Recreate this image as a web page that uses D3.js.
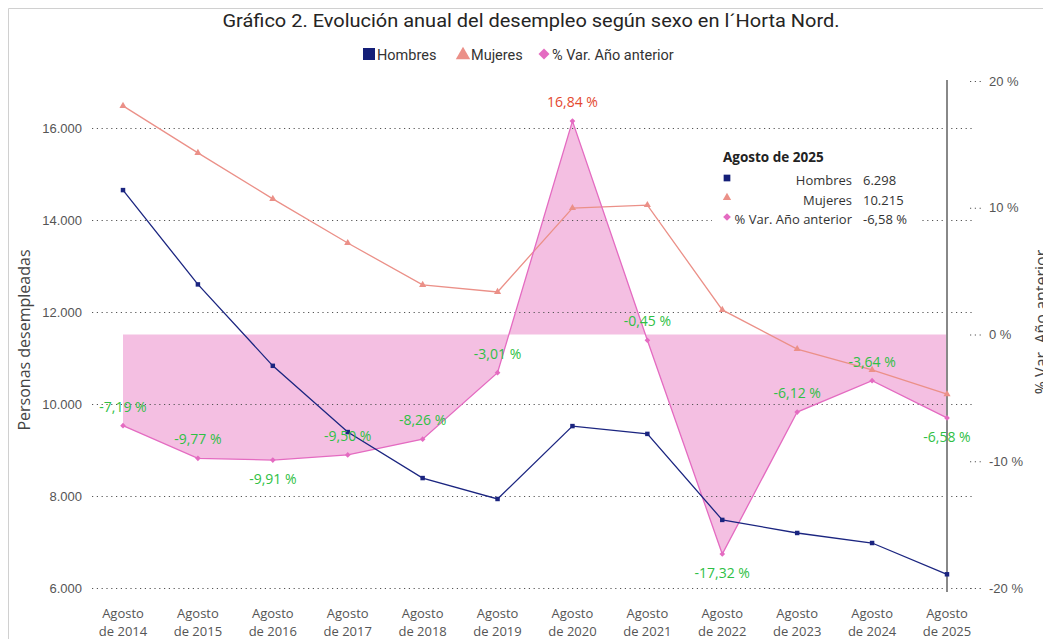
<!DOCTYPE html>
<html>
<head>
<meta charset="utf-8">
<script src="https://cdn.jsdelivr.net/npm/d3@7"></script>
<style>
  body { margin: 0; background: #fff; }
  svg { font-family: "Open Sans", "Noto Sans", sans-serif; }
  .grid line { stroke: #555; stroke-dasharray: 1.2,3.6; stroke-width: 1.2; }
  .grid path { display: none; }
  .axis path { display: none; }
  .axis text { fill: #555; font-size: 13px; }
</style>
</head>
<body>
<svg id="canvas" width="1043" height="639"></svg>
<script>
var width = 1043;
var height = 639;

var years = ["2014", "2015", "2016", "2017", "2018", "2019", "2020", "2021", "2022", "2023", "2024", "2025"];
var hombres = [14650, 12600, 10830, 9390, 8390, 7935, 9520, 9350, 7480, 7196, 6978, 6298];
var mujeres = [16480, 15460, 14460, 13500, 12590, 12435, 14260, 14325, 12045, 11195, 10740, 10215];
var variacion = [-7.19, -9.77, -9.91, -9.50, -8.26, -3.01, 16.84, -0.45, -17.32, -6.12, -3.64, -6.58];
// label above (1) or below (-1) the point
var labelSide = [1, 1, -1, 1, 1, 1, 1, 1, -1, 1, 1, -1];
var leftTicks = [6000, 8000, 10000, 12000, 14000, 16000];
var rightTicks = [-20, -10, 0, 10, 20];

var es = d3.formatLocale({decimal: ",", thousands: ".", grouping: [3], currency: ["", " €"], minus: "-"});
var fmtInt = es.format(",.0f");
var fmtPct = function(v) { return es.format(".2f")(v) + " %"; };

var svg = d3.select("#canvas");

var xScale = d3.scalePoint()
.domain(years)
.range([123, 947]);

var yScale = d3.scaleLinear()
.domain([6000, 16000])
.range([588, 128]);

var pScale = d3.scaleLinear()
.domain([-20, 20])
.range([588, 81]);

// a diamond = square turned 45 degrees
function marker(symbol) {
  return symbol === "diamond" ? d3.symbolSquare : symbol;
}
function rot(symbol) {
  return symbol === "diamond" ? " rotate(45)" : "";
}

// frame
svg.append("path")
.attr("d", "M8.5," + height + "V8.5H" + width)
.attr("fill", "none")
.attr("stroke", "#d0d0d0")
.attr("stroke-width", 1);

// title
svg.append("text")
.attr("x", 531)
.attr("y", 27)
.attr("text-anchor", "middle")
.attr("font-family", "Roboto, sans-serif")
.attr("font-size", 17.5)
.attr("fill", "#252423")
.attr("textLength", 617)
.attr("lengthAdjust", "spacingAndGlyphs")
.text("Gráfico 2. Evolución anual del desempleo según sexo en l´Horta Nord.");

// legend
var lg = svg.append("g").attr("font-family", "Roboto, sans-serif").attr("font-size", 14.5).attr("fill", "#333");
lg.append("rect").attr("x", 363).attr("y", 48).attr("width", 12).attr("height", 12).attr("fill", "#141f78");
lg.append("text").attr("x", 377).attr("y", 60).text("Hombres");
lg.append("path").attr("d", d3.symbol(d3.symbolTriangle, 90)()).attr("transform", "translate(463,55)").attr("fill", "#eb9088");
lg.append("text").attr("x", 471).attr("y", 60).text("Mujeres");
lg.append("path").attr("d", d3.symbol(d3.symbolSquare, 60)()).attr("transform", "translate(544,54) rotate(45)").attr("fill", "#e46bc1");
lg.append("text").attr("x", 552).attr("y", 60).text("% Var. Año anterior");

// area of % variation
var area = d3.area()
.x(function(d, i) { return xScale(years[i]); })
.y0(pScale(0))
.y1(function(d) { return pScale(d); });

svg.append("path")
.datum(variacion)
.attr("fill", "#f4bfe2")
.attr("d", area);

// gridlines
svg.append("g")
.attr("class", "grid")
.attr("transform", "translate(92,0)")
.call(d3.axisRight(yScale).tickValues(leftTicks).tickSize(883).tickFormat(""));

// left axis
svg.append("g")
.attr("class", "axis")
.attr("transform", "translate(92,0)")
.call(d3.axisLeft(yScale).tickValues(leftTicks).tickSize(0).tickPadding(10).tickFormat(fmtInt));

// right axis
var ra = svg.append("g")
.attr("class", "axis grid")
.attr("transform", "translate(970,0)")
.call(d3.axisRight(pScale).tickValues(rightTicks).tickSize(12).tickPadding(7).tickFormat(function(d) { return d + " %"; }));
ra.selectAll("text").attr("fill", "#555").style("stroke", "none");

// x axis labels
var xl = svg.append("g").attr("class", "axis");
years.forEach(function(y) {
  var t = xl.append("text")
  .attr("x", xScale(y))
  .attr("y", 618)
  .attr("text-anchor", "middle")
  .attr("fill", "#333");
  t.append("tspan").attr("x", xScale(y)).text("Agosto");
  t.append("tspan").attr("x", xScale(y)).attr("dy", 18).text("de " + y);
});

// axis titles
svg.append("text")
.attr("transform", "translate(30,340) rotate(-90)")
.attr("text-anchor", "middle")
.attr("font-size", 16)
.attr("fill", "#444")
.text("Personas desempleadas");

svg.append("text")
.attr("transform", "translate(1047,322) rotate(-90)")
.attr("text-anchor", "middle")
.attr("font-size", 16)
.attr("fill", "#444")
.text("% Var. Año anterior");

// hover line
svg.append("line")
.attr("x1", xScale("2025")).attr("x2", xScale("2025"))
.attr("y1", 80).attr("y2", 592)
.attr("stroke", "#888")
.attr("stroke-width", 2);

function drawLine(values, scale, color, symbol, size) {
  var line = d3.line()
  .x(function(d, i) { return xScale(years[i]); })
  .y(function(d) { return scale(d); });

  svg.append("path")
  .datum(values)
  .attr("fill", "none")
  .attr("stroke", color)
  .attr("stroke-width", 1.3)
  .attr("d", line);

  svg.selectAll(null)
  .data(values)
  .enter().append("path")
  .attr("d", d3.symbol(marker(symbol), size)())
  .attr("transform", function(d, i) { return "translate(" + xScale(years[i]) + "," + scale(d) + ")" + rot(symbol); })
  .attr("fill", color);
}

drawLine(mujeres, yScale, "#eb9088", d3.symbolTriangle, 22);
drawLine(variacion, pScale, "#e46bc1", "diamond", 16);
drawLine(hombres, yScale, "#1b2580", d3.symbolSquare, 20);

// data labels for % variation
svg.selectAll(".lbl")
.data(variacion)
.enter().append("text")
.attr("class", "lbl")
.attr("x", function(d, i) { return xScale(years[i]); })
.attr("y", function(d, i) { return pScale(d) + (labelSide[i] > 0 ? -14 : 24); })
.attr("text-anchor", "middle")
.attr("font-size", 14)
.attr("fill", function(d) { return d > 0 ? "#e4482e" : "#2fbf45"; })
.text(function(d) { return fmtPct(d); });

// tooltip
var last = years.length - 1;
var tip = svg.append("g").attr("font-family", "'Open Sans', sans-serif");
tip.append("rect").attr("x", 712).attr("y", 143).attr("width", 208).attr("height", 92).attr("fill", "#fff");
tip.append("text").attr("x", 723).attr("y", 162).attr("font-weight", "bold").attr("font-size", 13.5).attr("fill", "#222").text("Agosto de " + years[last]);

var rows = [
  {name: "Hombres", value: fmtInt(hombres[last]), color: "#141f78", symbol: d3.symbolSquare, size: 45},
  {name: "Mujeres", value: fmtInt(mujeres[last]), color: "#eb9088", symbol: d3.symbolTriangle, size: 30},
  {name: "% Var. Año anterior", value: fmtPct(variacion[last]), color: "#e46bc1", symbol: "diamond", size: 30}
];
rows.forEach(function(r, i) {
  var y = 185 + i * 19.5;
  tip.append("path").attr("d", d3.symbol(marker(r.symbol), r.size)()).attr("transform", "translate(727," + (y - 7) + ")" + rot(r.symbol)).attr("fill", r.color);
  tip.append("text").attr("x", 852).attr("y", y).attr("text-anchor", "end").attr("font-size", 13).attr("fill", "#333").text(r.name);
  tip.append("text").attr("x", 863).attr("y", y).attr("font-size", 13).attr("fill", "#333").text(r.value);
});
</script>
</body>
</html>
